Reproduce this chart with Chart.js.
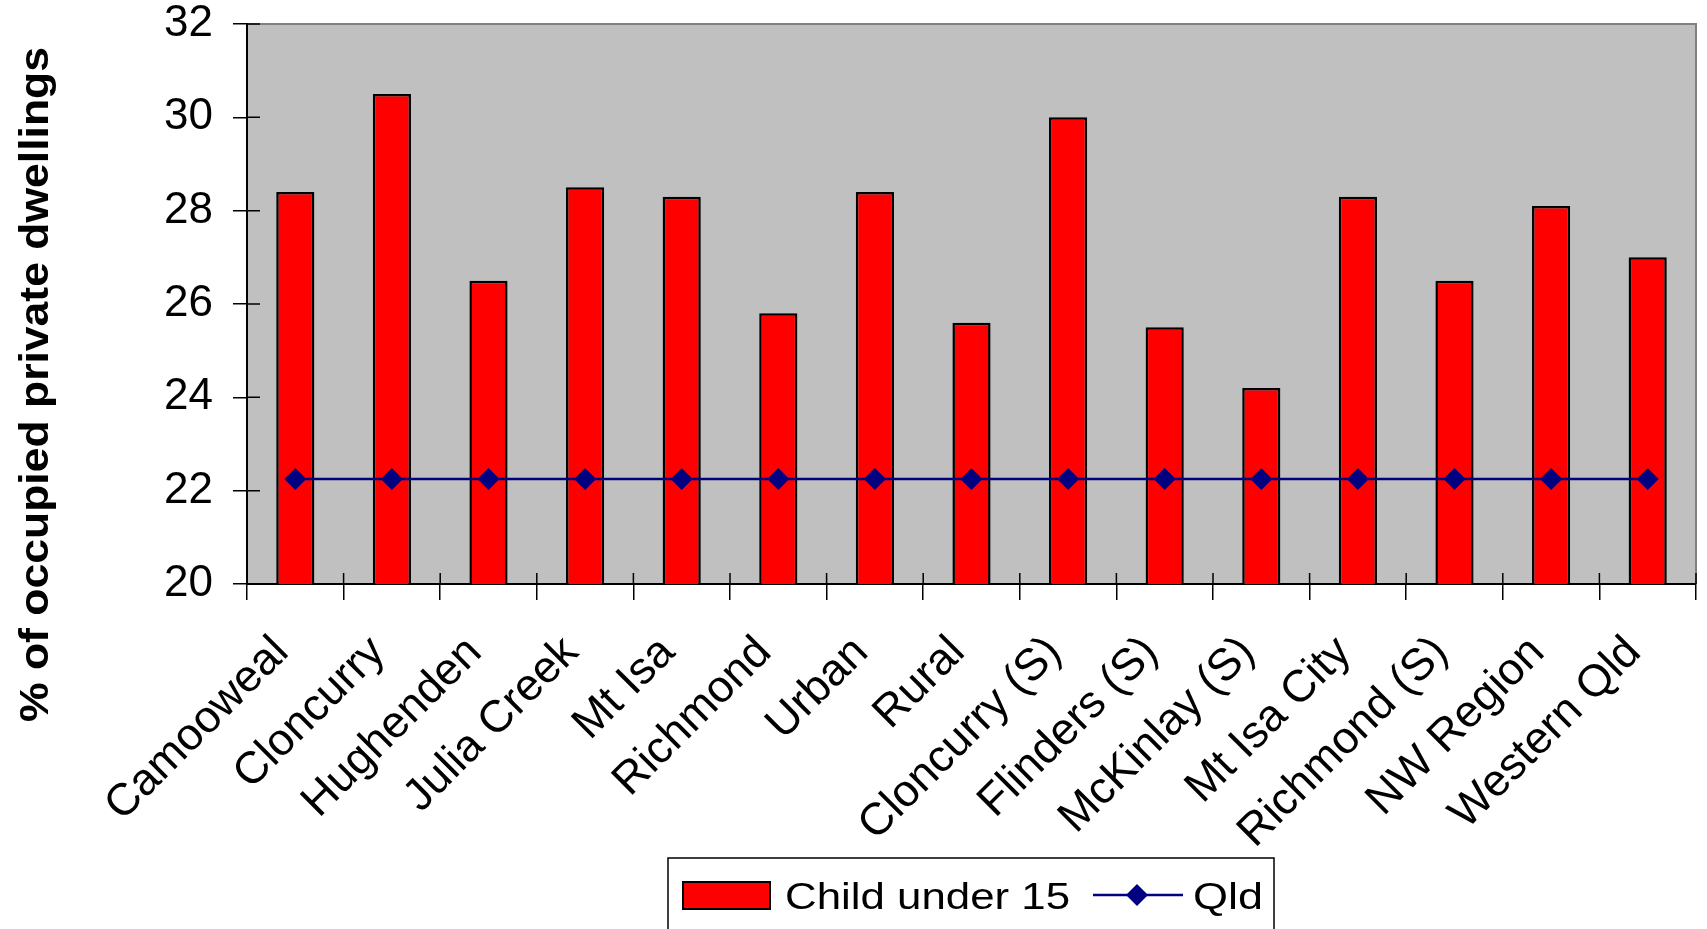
<!DOCTYPE html>
<html>
<head>
<meta charset="utf-8">
<script src="https://cdn.jsdelivr.net/npm/chart.js@4.4.1/dist/chart.umd.min.js"></script>
<style>
  html, body { margin: 0; padding: 0; background: #fff; }
  #wrap { width: 1707px; height: 929px; }
</style>
</head>
<body>
<div id="wrap"><canvas id="chart" width="1707" height="929"></canvas></div>
<script>
// Areas along the x axis
const areas = ['Camooweal', 'Cloncurry', 'Hughenden', 'Julia Creek', 'Mt Isa', 'Richmond', 'Urban', 'Rural',
    'Cloncurry (S)', 'Flinders (S)', 'McKinlay (S)', 'Mt Isa City', 'Richmond (S)', 'NW Region', 'Western Qld'];
// % of occupied private dwellings with a child under 15
const childUnder15 = [28.4, 30.5, 26.5, 28.5, 28.3, 25.8, 28.4, 25.6, 30.0, 25.5, 24.2, 28.3, 26.5, 28.1, 27.0];
// Queensland figure, shown against every area
const qld = [22.25, 22.25, 22.25, 22.25, 22.25, 22.25, 22.25, 22.25, 22.25, 22.25, 22.25, 22.25, 22.25, 22.25, 22.25];
// y axis ticks
const yTicks = [20, 22, 24, 26, 28, 30, 32];

const FONT = '"Liberation Sans", Arial, sans-serif';

// Grey plot area with the thin grey frame on top and right
const plotBackground = {
    id: 'plotBackground',
    beforeDraw(chart) {
        const { ctx, chartArea: a } = chart;
        ctx.save();
        ctx.fillStyle = '#C0C0C0';
        ctx.fillRect(a.left, a.top, a.right - a.left, a.bottom - a.top);
        ctx.strokeStyle = '#808080';
        ctx.lineWidth = 2;
        ctx.beginPath();
        ctx.moveTo(a.left, a.top);
        ctx.lineTo(a.right, a.top);
        ctx.lineTo(a.right, a.bottom);
        ctx.stroke();
        ctx.restore();
    }
};

// Excel style tick marks that cross the axis (the inner half)
const innerTicks = {
    id: 'innerTicks',
    afterDraw(chart) {
        const { ctx, chartArea: a, scales } = chart;
        ctx.save();
        ctx.strokeStyle = '#000';
        ctx.lineWidth = 1.5;
        ctx.beginPath();
        yTicks.forEach(v => {
            const y = scales.y.getPixelForValue(v);
            ctx.moveTo(a.left, y);
            ctx.lineTo(a.left + 13, y);
        });
        for (let i = 0; i <= areas.length; i++) {
            const x = scales.x.getPixelForValue(i - 0.5);
            ctx.moveTo(x, a.bottom);
            ctx.lineTo(x, a.bottom - 11);
        }
        ctx.stroke();
        ctx.restore();
    }
};

// Category labels, rotated 45 degrees, ending just under each category
const xLabels = {
    id: 'xLabels',
    afterDraw(chart) {
        const { ctx, chartArea: a, scales } = chart;
        ctx.save();
        ctx.font = '45px ' + FONT;
        ctx.fillStyle = '#000';
        ctx.textAlign = 'right';
        ctx.textBaseline = 'alphabetic';
        chart.data.labels.forEach((name, i) => {
            const x = scales.x.getPixelForValue(i);
            ctx.save();
            ctx.translate(x - 5, a.bottom + 70);
            ctx.rotate(-Math.PI / 4);
            ctx.fillText(name, 0, 0);
            ctx.restore();
        });
        ctx.restore();
    }
};

// Rotated y axis title
const yTitle = {
    id: 'yTitle',
    afterDraw(chart) {
        const ctx = chart.ctx;
        const text = '% of occupied private dwellings';
        ctx.save();
        ctx.font = 'bold 40px ' + FONT;
        const w = ctx.measureText(text).width;
        ctx.translate(48, 722);
        ctx.rotate(-Math.PI / 2);
        ctx.scale(675 / w, 1);
        ctx.fillStyle = '#000';
        ctx.textBaseline = 'alphabetic';
        ctx.fillText(text, 0, 0);
        ctx.restore();
    }
};

// Legend box at the bottom, drawn like the Excel one
const bottomLegend = {
    id: 'bottomLegend',
    afterDraw(chart) {
        const ctx = chart.ctx;
        const bar = chart.data.datasets[1];
        const line = chart.data.datasets[0];
        ctx.save();
        ctx.fillStyle = '#fff';
        ctx.fillRect(668, 858, 606, 80);
        ctx.strokeStyle = '#000';
        ctx.lineWidth = 1.5;
        ctx.strokeRect(668, 858, 606, 80);

        // bar swatch
        ctx.fillStyle = bar.backgroundColor;
        ctx.fillRect(683, 882, 87, 27);
        ctx.lineWidth = 2;
        ctx.strokeRect(683, 882, 87, 27);

        ctx.fillStyle = '#000';
        ctx.font = '37px ' + FONT;
        ctx.textBaseline = 'alphabetic';
        let w = ctx.measureText(bar.label).width;
        ctx.save();
        ctx.translate(785, 909);
        ctx.scale(285 / w, 1);
        ctx.fillText(bar.label, 0, 0);
        ctx.restore();

        // line swatch with diamond
        ctx.strokeStyle = line.borderColor;
        ctx.lineWidth = 2.5;
        ctx.beginPath();
        ctx.moveTo(1093, 895);
        ctx.lineTo(1183, 895);
        ctx.stroke();
        ctx.fillStyle = line.pointBackgroundColor;
        ctx.beginPath();
        ctx.moveTo(1137, 884);
        ctx.lineTo(1148, 895);
        ctx.lineTo(1137, 906);
        ctx.lineTo(1126, 895);
        ctx.closePath();
        ctx.fill();

        ctx.fillStyle = '#000';
        w = ctx.measureText(line.label).width;
        ctx.translate(1193, 909);
        ctx.scale(70 / w, 1);
        ctx.fillText(line.label, 0, 0);
        ctx.restore();
    }
};

new Chart(document.getElementById('chart'), {
    data: {
        labels: areas,
        datasets: [
            {
                type: 'line',
                label: 'Qld',
                data: qld,
                order: 0,
                borderColor: '#000080',
                borderWidth: 2.5,
                pointStyle: 'rectRot',
                pointRadius: 11,
                pointBackgroundColor: '#000080',
                pointBorderColor: '#000080',
                pointBorderWidth: 0,
                tension: 0
            },
            {
                type: 'bar',
                label: 'Child under 15',
                data: childUnder15,
                order: 1,
                backgroundColor: '#FF0000',
                borderColor: '#000',
                borderWidth: 2.5,
                borderSkipped: false,
                categoryPercentage: 1,
                barPercentage: 0.395
            }
        ]
    },
    options: {
        responsive: false,
        animation: false,
        layout: { padding: { left: 0, top: 24, right: 8, bottom: 0 } },
        plugins: {
            legend: { display: false },
            tooltip: { enabled: false },
            title: { display: false }
        },
        scales: {
            x: {
                offset: true,
                afterFit(scale) {
                    scale.height = 345;
                    scale.paddingLeft = 0;
                    scale.paddingRight = 0;
                },
                grid: {
                    offset: true,
                    drawOnChartArea: false,
                    drawTicks: true,
                    tickLength: 16,
                    color: '#000',
                    lineWidth: 1.5
                },
                border: { display: true, color: '#000', width: 2 },
                ticks: { display: false, autoSkip: false }
            },
            y: {
                min: yTicks[0],
                max: yTicks[yTicks.length - 1],
                afterFit(scale) {
                    scale.width = 247;
                    scale.paddingTop = 0;
                    scale.paddingBottom = 0;
                },
                afterBuildTicks(scale) { scale.ticks = yTicks.map(v => ({ value: v })); },
                grid: {
                    drawOnChartArea: false,
                    drawTicks: true,
                    tickLength: 14,
                    color: '#000',
                    lineWidth: 1.5
                },
                border: { display: true, color: '#000', width: 2 },
                ticks: {
                    padding: 20,
                    color: '#000',
                    font: { family: FONT, size: 44 }
                }
            }
        }
    },
    plugins: [plotBackground, innerTicks, xLabels, yTitle, bottomLegend]
});
</script>
</body>
</html>
